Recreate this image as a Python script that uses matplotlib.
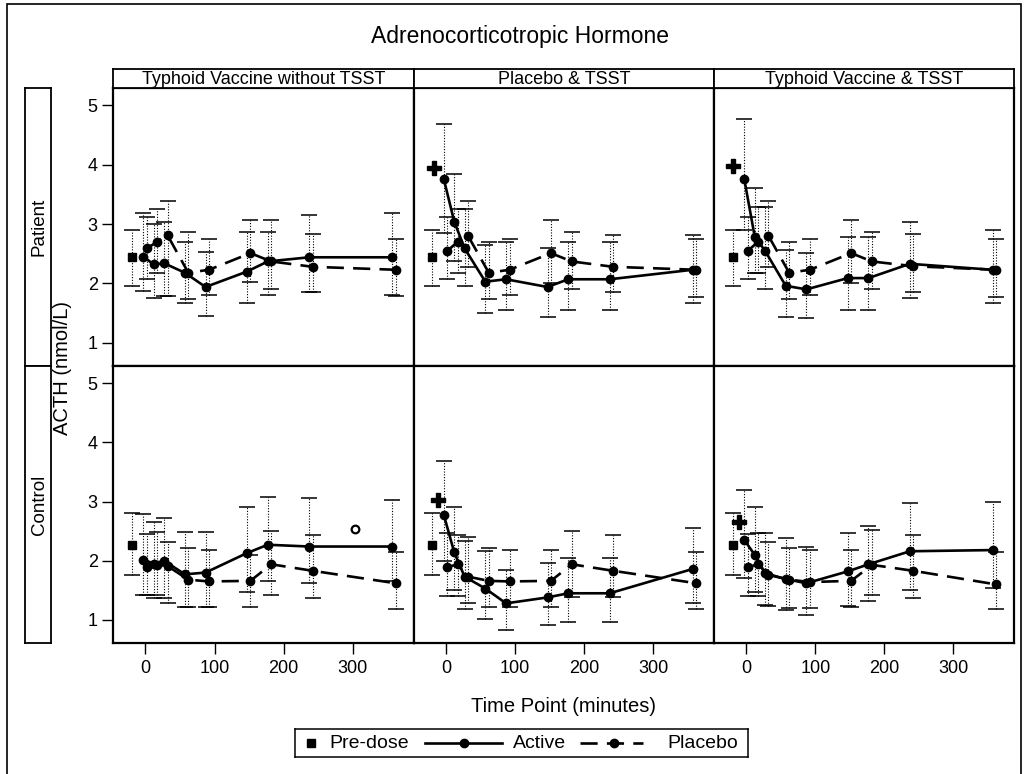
import numpy as np
import matplotlib
matplotlib.use("Agg")
import matplotlib.pyplot as plt
from matplotlib.patches import Rectangle

plt.rcParams['font.family'] = ['Liberation Sans', 'DejaVu Sans']

# Datos
times = [0, 15, 30, 60, 90, 150, 180, 240, 360]
predose_time = -20
columns = ['Typhoid Vaccine without TSST', 'Placebo & TSST', 'Typhoid Vaccine & TSST']
rows = ['Patient', 'Control']

predose_mean = [2.44, 2.27]
predose_lo = [1.96, 1.76]
predose_hi = [2.90, 2.81]

# [fila][columna][tiempo]
active_mean = [
    [[2.45, 2.32, 2.34, 2.18, 1.94, 2.20, 2.37, 2.44, 2.44],
     [3.75, 3.04, 2.59, 2.03, 2.07, 1.94, 2.07, 2.07, 2.23],
     [3.75, 2.79, 2.55, 1.96, 1.90, 2.09, 2.09, 2.33, 2.23]],
    [[2.02, 1.95, 2.00, 1.77, 1.80, 2.13, 2.27, 2.24, 2.24],
     [2.77, 2.14, 1.73, 1.53, 1.28, 1.38, 1.45, 1.45, 1.86],
     [2.35, 2.10, 1.79, 1.69, 1.62, 1.82, 1.94, 2.16, 2.18]],
]
active_lo = [
    [[1.88, 1.75, 1.78, 1.67, 1.45, 1.67, 1.81, 1.86, 1.81],
     [2.85, 2.37, 1.96, 1.50, 1.56, 1.44, 1.56, 1.56, 1.67],
     [2.90, 2.18, 1.90, 1.44, 1.41, 1.56, 1.56, 1.75, 1.67]],
    [[1.42, 1.37, 1.37, 1.22, 1.22, 1.48, 1.66, 1.63, 1.65],
     [2.00, 1.51, 1.18, 1.01, 0.83, 0.91, 0.97, 0.97, 1.29],
     [1.70, 1.48, 1.25, 1.16, 1.08, 1.23, 1.32, 1.51, 1.54]],
]
active_hi = [
    [[3.18, 3.00, 3.04, 2.69, 2.53, 2.87, 2.87, 3.15, 3.18],
     [4.69, 3.85, 3.26, 2.65, 2.69, 2.60, 2.69, 2.69, 2.82],
     [4.76, 3.60, 3.29, 2.57, 2.52, 2.78, 2.78, 3.04, 2.90]],
    [[2.79, 2.65, 2.73, 2.48, 2.48, 2.90, 3.08, 3.06, 3.02],
     [3.68, 2.90, 2.34, 2.17, 1.85, 1.97, 2.04, 2.04, 2.56],
     [3.19, 2.90, 2.47, 2.38, 2.24, 2.47, 2.58, 2.97, 3.00]],
]
placebo_mean = [
    [[2.59, 2.70, 2.81, 2.18, 2.23, 2.51, 2.37, 2.28, 2.23],
     [2.55, 2.70, 2.80, 2.18, 2.23, 2.51, 2.37, 2.28, 2.23],
     [2.55, 2.70, 2.80, 2.18, 2.23, 2.51, 2.37, 2.29, 2.23]],
    [[1.90, 1.93, 1.91, 1.68, 1.65, 1.66, 1.94, 1.83, 1.62],
     [1.89, 1.94, 1.73, 1.66, 1.65, 1.66, 1.94, 1.83, 1.62],
     [1.89, 1.94, 1.76, 1.68, 1.64, 1.66, 1.93, 1.83, 1.60]],
]
placebo_lo = [
    [[2.07, 2.18, 1.78, 1.73, 1.81, 2.03, 1.90, 1.86, 1.78],
     [2.07, 2.18, 2.27, 1.73, 1.81, 2.00, 1.90, 1.85, 1.77],
     [2.07, 2.18, 2.27, 1.73, 1.81, 2.00, 1.90, 1.86, 1.77]],
    [[1.42, 1.42, 1.29, 1.22, 1.22, 1.21, 1.42, 1.37, 1.18],
     [1.40, 1.41, 1.29, 1.21, 1.21, 1.21, 1.39, 1.38, 1.18],
     [1.40, 1.40, 1.23, 1.20, 1.20, 1.21, 1.42, 1.37, 1.18]],
]
placebo_hi = [
    [[3.12, 3.26, 3.39, 2.86, 2.74, 3.07, 3.07, 2.83, 2.74],
     [3.12, 3.26, 3.39, 2.69, 2.74, 3.07, 2.87, 2.82, 2.74],
     [3.12, 3.29, 3.39, 2.69, 2.74, 3.07, 2.87, 2.83, 2.74]],
    [[2.46, 2.49, 2.32, 2.21, 2.18, 2.10, 2.50, 2.43, 2.15],
     [2.47, 2.44, 2.40, 2.21, 2.18, 2.18, 2.51, 2.43, 2.15],
     [2.46, 2.47, 2.32, 2.21, 2.18, 2.18, 2.52, 2.43, 2.15]],
]

# marcas extra: (fila, columna, tiempo, valor)
plus_marks = [(0, 1, -18, 3.95), (0, 2, -19, 3.97), (1, 1, -11, 3.03), (1, 2, -11, 2.66)]
circle_marks = [(1, 0, 304, 2.53)]

active_shift = -3
placebo_shift = 2

W, H = 1028, 774
fig = plt.figure(figsize=(W / 100, H / 100), dpi=100)


def px_box(x0, y0, x1, y1):
    # caja en pixeles -> coordenadas de figura
    return [x0 / W, 1 - y1 / H, (x1 - x0) / W, (y1 - y0) / H]


# borde exterior
fig.add_artist(Rectangle((7 / W, -0.05), (1021 - 7) / W, 1.05 - 4 / H,
                         transform=fig.transFigure, fill=False, lw=1.2, ec='black'))

col_x = [113, 413.5, 714, 1014]
row_y = [88, 366, 643]

for r in range(2):
    for c in range(3):
        ax = fig.add_axes(px_box(col_x[c], row_y[r], col_x[c + 1], row_y[r + 1]))
        ax.set_xlim(-47, 388)
        ax.set_ylim(0.61, 5.29)
        for s in ax.spines.values():
            s.set_linewidth(1.6)

        ta = np.array(times) + active_shift
        tp = np.array(times) + placebo_shift
        am = np.array(active_mean[r][c])
        pm = np.array(placebo_mean[r][c])
        for tt, m, lo, hi in [(ta, am, active_lo[r][c], active_hi[r][c]),
                              (tp, pm, placebo_lo[r][c], placebo_hi[r][c])]:
            eb = ax.errorbar(tt, m, yerr=[m - np.array(lo), np.array(hi) - m], fmt='none',
                             ecolor='black', elinewidth=0.8, capsize=6, capthick=1.1, zorder=2)
            eb[2][0].set_linestyle((0, (1, 1.5)))

        eb = ax.errorbar([predose_time], [predose_mean[r]],
                         yerr=[[predose_mean[r] - predose_lo[r]], [predose_hi[r] - predose_mean[r]]],
                         fmt='s', color='black', ms=5.5, ecolor='black', elinewidth=0.8,
                         capsize=6, capthick=1.1, zorder=3)
        eb[2][0].set_linestyle((0, (1, 1.5)))

        ax.plot(ta, am, '-', color='black', lw=1.9, marker='o', ms=6, zorder=4)
        ax.plot(tp, pm, color='black', lw=1.9, ls=(0, (6.5, 3.5)), marker='o', ms=6, zorder=4)

        for (rr, cc, t, v) in plus_marks:
            if rr == r and cc == c:
                ax.plot(t, v, marker='P', color='black', ms=9.5, zorder=5)
        for (rr, cc, t, v) in circle_marks:
            if rr == r and cc == c:
                ax.plot(t, v, marker='o', mfc='white', mec='black', mew=1.6, ms=5.5, zorder=5)

        if c == 0:
            ax.set_yticks([1, 2, 3, 4, 5])
            ax.tick_params(axis='y', length=8, width=1, labelsize=13, pad=3)
        else:
            ax.set_yticks([])
        if r == 1:
            ax.set_xticks([0, 100, 200, 300])
            ax.tick_params(axis='x', length=8, width=1, labelsize=13, pad=4)
        else:
            ax.set_xticks([])

# cabeceras de columna
for c in range(3):
    hx = fig.add_axes(px_box(col_x[c], 69, col_x[c + 1], 88))
    hx.set_xticks([])
    hx.set_yticks([])
    for s in hx.spines.values():
        s.set_linewidth(1.3)
    hx.text(0.5, 0.45, columns[c], ha='center', va='center', fontsize=13, transform=hx.transAxes)

# etiquetas de fila
for r in range(2):
    rx = fig.add_axes(px_box(25, row_y[r], 51, row_y[r + 1]))
    rx.set_xticks([])
    rx.set_yticks([])
    for s in rx.spines.values():
        s.set_linewidth(1.3)
    rx.text(0.55, 0.5, rows[r], ha='center', va='center', rotation=90, fontsize=13.5,
            transform=rx.transAxes)

fig.text(520 / W, 1 - 37 / H, 'Adrenocorticotropic Hormone', ha='center', va='center', fontsize=16.5)
fig.text(563.5 / W, 1 - 707 / H, 'Time Point (minutes)', ha='center', va='center', fontsize=14.5)
fig.text(63 / W, 1 - 368 / H, 'ACTH (nmol/L)', ha='center', va='center', rotation=90, fontsize=14.5)

# leyenda
lg = fig.add_axes(px_box(295, 729, 748, 757))
lg.set_xlim(295, 748)
lg.set_ylim(757, 729)
lg.set_xticks([])
lg.set_yticks([])
for s in lg.spines.values():
    s.set_linewidth(1.1)
lg.plot([310.5], [743], 's', color='black', ms=5.5)
lg.text(329, 743, 'Pre-dose', va='center', ha='left', fontsize=14)
lg.plot([425, 502], [743, 743], '-', color='black', lw=1.9)
lg.plot([463.5], [743], 'o', color='black', ms=6)
lg.text(513, 743, 'Active', va='center', ha='left', fontsize=14)
lg.plot([580, 643], [743, 743], color='black', lw=1.9, ls=(0, (6.5, 3.5)))
lg.plot([614], [743], 'o', color='black', ms=6)
lg.text(667, 743, 'Placebo', va='center', ha='left', fontsize=14)

fig.savefig('out.png', dpi=100)
